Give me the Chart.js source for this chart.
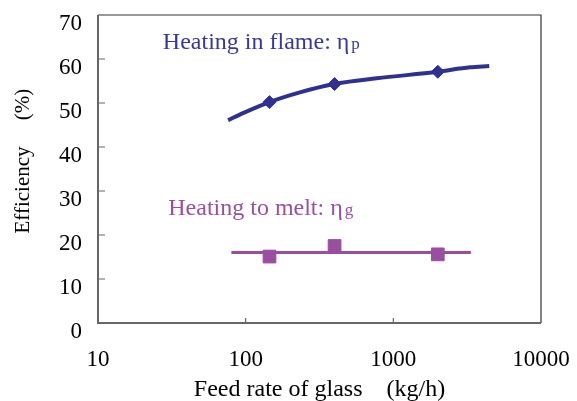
<!DOCTYPE html>
<html>
<head>
<meta charset="utf-8">
<script src="https://cdn.jsdelivr.net/npm/chart.js@4"></script>
<style>
  html, body { margin: 0; padding: 0; background: #fff; }
  #wrap { width: 577px; height: 401px; }
</style>
</head>
<body>
<div id="wrap"><canvas id="chart"></canvas></div>
<script>
// axis ticks
const xTicks = [10, 100, 1000, 10000];
const yMin = 0, yMax = 70, yStep = 10;

// measured points
const feedRates = [145, 400, 2000];
const flameEff = [50.2, 54.3, 57.1];
const meltEff = [15.1, 17.5, 15.6];

// fitted curve for flame heating
const flameCurveX = [76, 96, 145, 233, 396, 771, 1995, 3300, 4460];
const flameCurveY = [46.1, 47.7, 50.2, 52.4, 54.3, 55.6, 57.1, 58.1, 58.4];

// flat line for heating to melt
const meltLineX = [80, 3350];
const meltLineY = [16, 16];

// labels: [text, subscript, x, y, colour]
const notes = [
  ['Heating in flame: η', 'p', 27.5, 62.3, '#36399a'],
  ['Heating to melt: η', 'g', 29.9, 24.5, '#9b4fa0']
];

const BLUE = '#2e3192';
const PURPLE = '#9a4ea0';
const FONT = 'Liberation Serif';

const toPts = (xs, ys) => xs.map((x, i) => ({ x: x, y: ys[i] }));

// no extra room for overhanging tick labels, layout padding decides
function fixBox(s, key, size) {
  s[key] = size;
  s.paddingTop = s.paddingBottom = s.paddingLeft = s.paddingRight = 0;
}

// frame, inner tick marks and the two labels
const decor = {
  id: 'decor',
  afterDraw(chart) {
    const { ctx, chartArea: a, scales } = chart;
    ctx.save();
    ctx.strokeStyle = '#333';
    ctx.lineWidth = 1.2;
    ctx.beginPath();
    ctx.moveTo(a.left, a.top); ctx.lineTo(a.right, a.top); ctx.lineTo(a.right, a.bottom);
    ctx.stroke();
    ctx.strokeStyle = '#666';
    ctx.lineWidth = 2;
    ctx.beginPath();
    ctx.moveTo(a.left, a.top); ctx.lineTo(a.left, a.bottom); ctx.lineTo(a.right, a.bottom);
    ctx.stroke();

    ctx.lineWidth = 1.2;
    ctx.beginPath();
    for (let v = yMin + yStep; v < yMax; v += yStep) {
      const y = scales.y.getPixelForValue(v);
      ctx.moveTo(a.left, y); ctx.lineTo(a.left + 7, y);
    }
    xTicks.slice(1, -1).forEach(v => {
      const x = scales.x.getPixelForValue(v);
      ctx.moveTo(x, a.bottom); ctx.lineTo(x, a.bottom - 5);
    });
    ctx.stroke();

    ctx.textBaseline = 'alphabetic';
    ctx.textAlign = 'left';
    notes.forEach(([txt, sub, xv, yv, col]) => {
      const x = scales.x.getPixelForValue(xv);
      const y = scales.y.getPixelForValue(yv);
      ctx.fillStyle = col;
      ctx.font = '24px "' + FONT + '"';
      ctx.fillText(txt, x, y);
      const w = ctx.measureText(txt).width;
      ctx.font = '17px "' + FONT + '"';
      ctx.fillText(sub, x + w + 2, y);
    });
    ctx.restore();
  }
};

new Chart(document.getElementById('chart'), {
  type: 'line',
  data: {
    datasets: [
      {
        data: toPts(feedRates, flameEff),
        showLine: false,
        pointStyle: 'rectRot',
        pointRadius: 6.5,
        pointBackgroundColor: BLUE,
        pointBorderColor: BLUE
      },
      {
        data: toPts(feedRates, meltEff),
        showLine: false,
        pointStyle: 'rect',
        pointRadius: 9,
        pointBackgroundColor: PURPLE,
        pointBorderColor: PURPLE
      },
      {
        data: toPts(flameCurveX, flameCurveY),
        borderColor: BLUE,
        borderWidth: 4,
        pointRadius: 0,
        cubicInterpolationMode: 'monotone'
      },
      {
        data: toPts(meltLineX, meltLineY),
        borderColor: PURPLE,
        borderWidth: 3,
        pointRadius: 0
      }
    ]
  },
  plugins: [decor],
  options: {
    responsive: true,
    maintainAspectRatio: false,
    animation: false,
    layout: { padding: { top: 15, right: 36, left: 0, bottom: 0 } },
    plugins: { legend: { display: false }, tooltip: { enabled: false } },
    scales: {
      x: {
        type: 'logarithmic',
        min: xTicks[0],
        max: xTicks[xTicks.length - 1],
        afterBuildTicks: s => { s.ticks = xTicks.map(v => ({ value: v })); },
        afterFit: s => fixBox(s, 'height', 78),
        grid: { display: false, drawTicks: false },
        border: { display: false },
        ticks: {
          color: '#000',
          font: { family: FONT, size: 23 },
          padding: 23,
          maxRotation: 0,
          autoSkip: false,
          callback: v => String(v)
        },
        title: {
          display: true,
          text: 'Feed rate of glass    (kg/h)',
          color: '#000',
          font: { family: FONT, size: 24, lineHeight: 1 },
          padding: { top: 0, bottom: -1 }
        }
      },
      y: {
        min: yMin,
        max: yMax,
        afterFit: s => fixBox(s, 'width', 98),
        grid: { display: false, drawTicks: false },
        border: { display: false },
        ticks: {
          stepSize: yStep,
          color: '#000',
          font: { family: FONT, size: 23 },
          padding: 16,
          labelOffset: 9
        },
        title: {
          display: true,
          text: '   Efficiency     (%)',
          color: '#000',
          font: { family: FONT, size: 21, lineHeight: 1 },
          padding: { top: 13, bottom: 0 }
        }
      }
    }
  }
});
</script>
</body>
</html>
